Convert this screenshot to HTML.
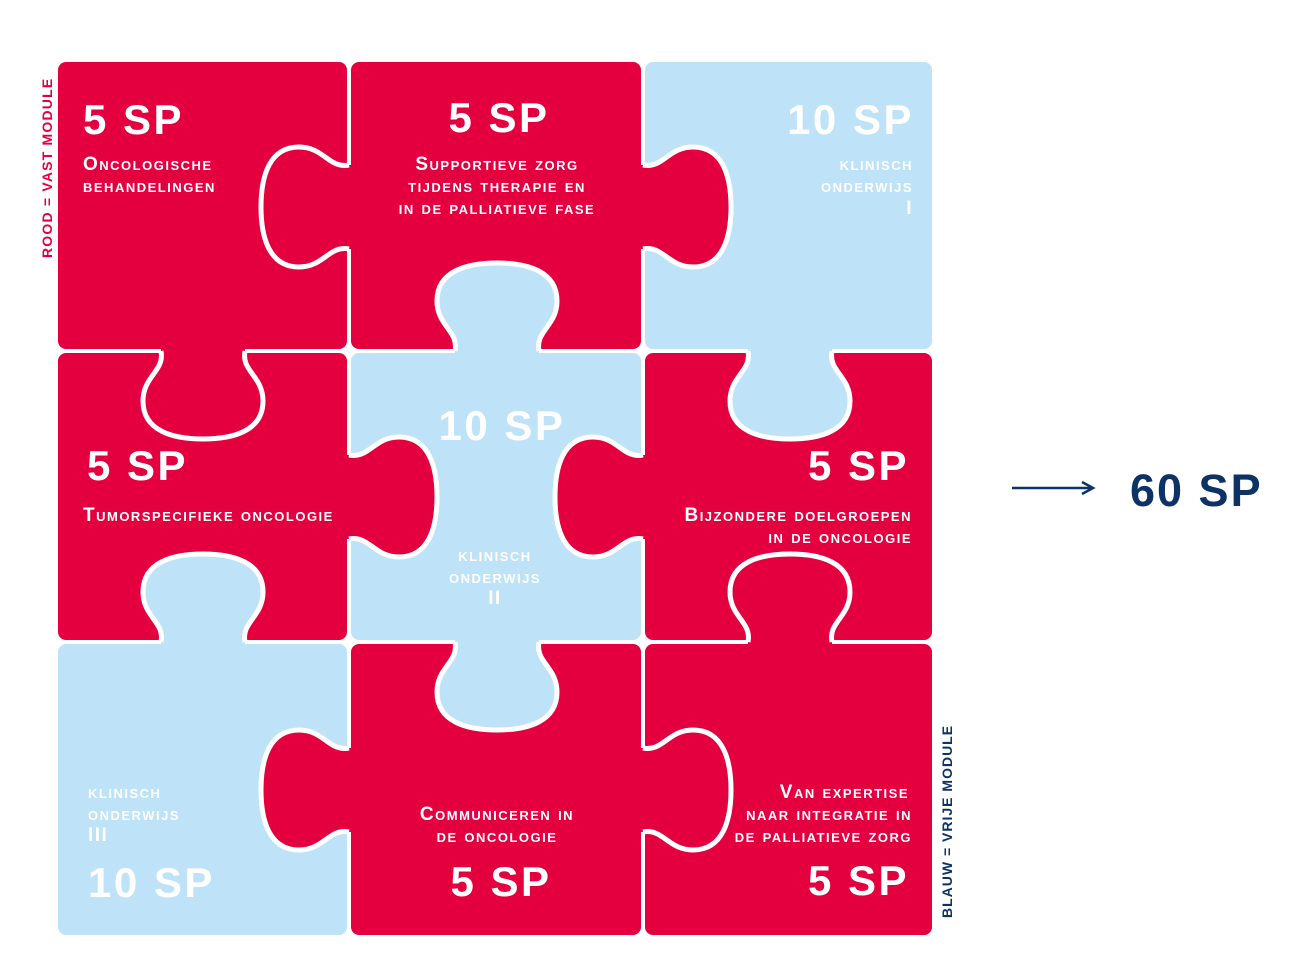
<!DOCTYPE html>
<html><head><meta charset="utf-8"><style>
html,body{margin:0;padding:0;background:#fff;width:1300px;height:976px;overflow:hidden}
svg{display:block}
.n{font-family:"Liberation Sans",sans-serif;font-weight:bold;font-size:42px;fill:#fff;letter-spacing:2.5px}
.l{font-family:"Liberation Sans",sans-serif;font-weight:bold;font-size:19px;fill:#fff;font-variant:small-caps;letter-spacing:1.5px}
</style></head><body>
<svg width="1300" height="976" viewBox="0 0 1300 976">
<defs>
<path id="kf" d="M -42 10 L -42 0 C -38 -20, -60 -25, -60 -50 C -60 -80, -30 -88, 0 -88 C 30 -88, 60 -80, 60 -50 C 60 -25, 38 -20, 42 0 L 42 10 Z"/>
<path id="ks" d="M -42 0 C -38 -20, -60 -25, -60 -50 C -60 -80, -30 -88, 0 -88 C 30 -88, 60 -80, 60 -50 C 60 -25, 38 -20, 42 0" fill="none" stroke="#fff" stroke-width="5"/>
</defs>
<g>
<rect x="58" y="62" width="289" height="287" rx="8" fill="#E4003F"/>
<rect x="351" y="62" width="290" height="287" rx="8" fill="#E4003F"/>
<rect x="645" y="62" width="287" height="287" rx="8" fill="#BEE3F8"/>
<rect x="58" y="353" width="289" height="287" rx="8" fill="#E4003F"/>
<rect x="351" y="353" width="290" height="287" rx="8" fill="#BEE3F8"/>
<rect x="645" y="353" width="287" height="287" rx="8" fill="#E4003F"/>
<rect x="58" y="644" width="289" height="291" rx="8" fill="#BEE3F8"/>
<rect x="351" y="644" width="290" height="291" rx="8" fill="#E4003F"/>
<rect x="645" y="644" width="287" height="291" rx="8" fill="#E4003F"/>
</g>
<g transform="translate(349,207) rotate(-90)"><use href="#kf" fill="#E4003F"/><use href="#ks"/></g>
<g transform="translate(643,207) rotate(90)"><use href="#kf" fill="#E4003F"/><use href="#ks"/></g>
<g transform="translate(497,351)"><use href="#kf" fill="#BEE3F8"/><use href="#ks"/></g>
<g transform="translate(203,351) rotate(180)"><use href="#kf" fill="#E4003F"/><use href="#ks"/></g>
<g transform="translate(790,351) rotate(180)"><use href="#kf" fill="#BEE3F8"/><use href="#ks"/></g>
<g transform="translate(349,497) rotate(90)"><use href="#kf" fill="#E4003F"/><use href="#ks"/></g>
<g transform="translate(643,497) rotate(-90)"><use href="#kf" fill="#E4003F"/><use href="#ks"/></g>
<g transform="translate(203,642)"><use href="#kf" fill="#BEE3F8"/><use href="#ks"/></g>
<g transform="translate(790,642)"><use href="#kf" fill="#E4003F"/><use href="#ks"/></g>
<g transform="translate(497,642) rotate(180)"><use href="#kf" fill="#BEE3F8"/><use href="#ks"/></g>
<g transform="translate(349,790) rotate(-90)"><use href="#kf" fill="#E4003F"/><use href="#ks"/></g>
<g transform="translate(643,790) rotate(90)"><use href="#kf" fill="#E4003F"/><use href="#ks"/></g>

<text class="n" x="83" y="134">5 SP</text>
<text class="l" x="83" y="170">Oncologische</text>
<text class="l" x="83" y="192">behandelingen</text>

<text class="n" x="499" y="132" text-anchor="middle">5 SP</text>
<text class="l" x="497" y="170" text-anchor="middle">Supportieve zorg</text>
<text class="l" x="497" y="192" text-anchor="middle">tijdens therapie en</text>
<text class="l" x="497" y="214" text-anchor="middle">in de palliatieve fase</text>

<text class="n" x="914" y="134" text-anchor="end">10 SP</text>
<text class="l" x="913" y="170" text-anchor="end">klinisch</text>
<text class="l" x="913" y="192" text-anchor="end">onderwijs</text>
<text class="l" x="913" y="214" text-anchor="end">I</text>

<text class="n" x="87" y="480">5 SP</text>
<text class="l" x="83" y="521">Tumorspecifieke oncologie</text>

<text class="n" x="502" y="440" text-anchor="middle">10 SP</text>
<text class="l" x="495" y="561" text-anchor="middle">klinisch</text>
<text class="l" x="495" y="583" text-anchor="middle">onderwijs</text>
<text class="l" x="495" y="604" text-anchor="middle">II</text>

<text class="n" x="909" y="480" text-anchor="end">5 SP</text>
<text class="l" x="912" y="521" text-anchor="end">Bijzondere doelgroepen</text>
<text class="l" x="912" y="543" text-anchor="end">in de oncologie</text>

<text class="l" x="88" y="798">klinisch</text>
<text class="l" x="88" y="820">onderwijs</text>
<text class="l" x="88" y="841">III</text>
<text class="n" x="88" y="897">10 SP</text>

<text class="l" x="497" y="820" text-anchor="middle">Communiceren in</text>
<text class="l" x="497" y="842" text-anchor="middle">de oncologie</text>
<text class="n" x="501" y="896" text-anchor="middle">5 SP</text>

<text class="l" x="909" y="798" text-anchor="end">Van expertise</text>
<text class="l" x="912" y="820" text-anchor="end">naar integratie in</text>
<text class="l" x="912" y="842" text-anchor="end">de palliatieve zorg</text>
<text class="n" x="909" y="895" text-anchor="end">5 SP</text>

<text transform="translate(52,258) rotate(-90)" font-family="Liberation Sans,sans-serif" font-weight="bold" font-size="14" fill="#E4003F" letter-spacing="1.2">ROOD = VAST MODULE</text>
<text transform="translate(952,918) rotate(-90)" font-family="Liberation Sans,sans-serif" font-weight="bold" font-size="14" fill="#0D3366" letter-spacing="1">BLAUW = VRIJE MODULE</text>

<line x1="1012" y1="488" x2="1090" y2="488" stroke="#0D3366" stroke-width="2.5"/>
<path d="M1082 482 L1093 488 L1082 494" fill="none" stroke="#0D3366" stroke-width="2.5"/>
<text x="1130" y="506" font-family="Liberation Sans,sans-serif" font-weight="bold" font-size="45" fill="#0D3366" letter-spacing="2">60 SP</text>
</svg>
</body></html>
